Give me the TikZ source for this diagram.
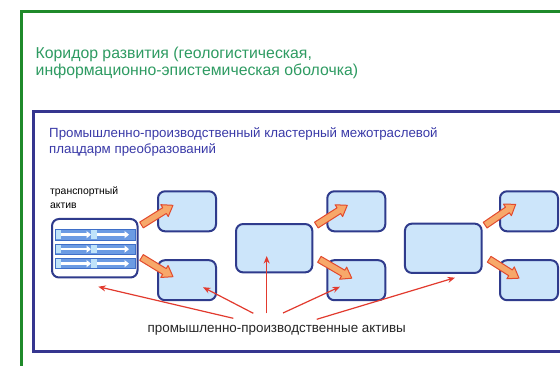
\documentclass[tikz,border=0pt]{standalone}
\usepackage{fontspec}
\setmainfont{Liberation Sans}
\usetikzlibrary{calc,arrows.meta}

\definecolor{frameGreen}{HTML}{1F8A2A}
\definecolor{textGreen}{HTML}{2E9B62}
\definecolor{frameBlue}{HTML}{35358F}
\definecolor{textBlue}{HTML}{3A3AA8}
\definecolor{boxFill}{HTML}{CCE5FA}
\definecolor{boxLine}{HTML}{2F3B8C}
\definecolor{linkRed}{HTML}{E23A2E}
\definecolor{fatFill}{HTML}{F7A86A}
\definecolor{fatLine}{HTML}{E24A2E}
\definecolor{laneFill}{HTML}{6B9BE3}
\definecolor{laneLine}{HTML}{3F6FC8}
\definecolor{laneLight}{HTML}{BFE3FA}

\tikzset{
  assetbox/.style={draw=boxLine, fill=boxFill, line width=2pt, rounded corners=7pt,
    inner sep=0pt, minimum width=58pt, minimum height=40pt},
  fatstyle/.style={fill=fatFill, draw=fatLine, line width=1pt, line join=round},
  redlink/.style={draw=linkRed, line width=1.2pt, -{Stealth[length=7.5pt,width=6pt]}},
  lane/.style={fill=laneFill, draw=laneLine, line width=0.8pt},
  lanearrow/.style={draw=white, line width=2.6pt, -{Triangle[length=4.5pt,width=7pt]}},
}

% thick outlined arrow from #1 to #2
\newcommand\fatarrow[2]{%
  \filldraw[fatstyle] let \p1=($(#2)-(#1)$), \n1={atan2(\y1,\x1)}, \n2={veclen(\x1,\y1)} in
    [shift={(#1)}, rotate=\n1]
    (0pt,-3.4pt) -- (\n2-10pt,-3.4pt) -- (\n2-10pt,-7pt) -- (\n2,0pt)
    -- (\n2-10pt,7pt) -- (\n2-10pt,3.4pt) -- (0pt,3.4pt) -- cycle;}

\begin{document}
\begin{tikzpicture}[x=1pt,y=-1pt]
\useasboundingbox (0,0) rectangle (560,366);
\clip (0,0) rectangle (560,366);
\fill[white] (0,0) rectangle (560,366);

% outer corridor frame
\draw[frameGreen, line width=2.3pt] (21.5,400) -- (21.5,11.5) -- (600,11.5);
\node[anchor=base west, inner sep=0pt, text=textGreen, font=\fontsize{15.8}{18}\selectfont]
  (corr1) at (35.5,58.3) {Коридор развития (геологистическая,};
\node[anchor=base west, inner sep=0pt, text=textGreen, font=\fontsize{15.8}{18}\selectfont]
  (corr2) at (35.5,75.5) {информационно-эпистемическая оболочка)};

% cluster frame
\draw[frameBlue, line width=2.5pt] (600,111.5) -- (33.3,111.5) -- (33.3,351.5) -- (600,351.5);
\node[anchor=base west, inner sep=0pt, text=textBlue, font=\fontsize{13.3}{15}\selectfont]
  (clu1) at (49,137.5) {Промышленно-производственный кластерный межотраслевой};
\node[anchor=base west, inner sep=0pt, text=textBlue, font=\fontsize{13.3}{15}\selectfont]
  (clu2) at (49,154) {плацдарм преобразований};

% transport asset
\node[anchor=base west, inner sep=0pt, font=\fontsize{10.4}{12}\selectfont]
  (tr1) at (50,194.3) {транспортный};
\node[anchor=base west, inner sep=0pt, font=\fontsize{10.4}{12}\selectfont]
  (tr2) at (50,208.3) {актив};
\node[assetbox, fill=white, minimum width=85.5pt, minimum height=58.5pt] (T) at (94.75,248.25) {};
\foreach \ya/\yb in {229.3/240, 244/254.3, 258.5/268.8}{
  \draw[lane] (55,\ya) rectangle (135,\yb);
  \fill[laneLight] (55.8,\ya+0.8) rectangle (61,\yb-0.8);
  \fill[laneLight] (91,\ya+0.8) rectangle (97,\yb-0.8);
  \draw[lanearrow] (61,{(\ya+\yb)/2}) -- (91,{(\ya+\yb)/2});
  \draw[lanearrow] (97,{(\ya+\yb)/2}) -- (129,{(\ya+\yb)/2});
}

% production assets
\node[assetbox] (A) at (187,211.3) {};
\node[assetbox] (B) at (187,280.2) {};
\node[assetbox, minimum width=76.3pt, minimum height=48.3pt] (C) at (274.2,248.2) {};
\node[assetbox] (D) at (356.3,211.3) {};
\node[assetbox] (E) at (356.3,280.2) {};
\node[assetbox, minimum width=76.7pt, minimum height=49.3pt] (F) at (443.3,248.3) {};
\node[assetbox] (G) at (529,211.3) {};
\node[assetbox] (H) at (529,280.2) {};

% flows between assets
\coordinate (t1) at ($(T.north east)+(3,7)$);
\coordinate (h1) at ($(A.west)+(16,-6)$);
\coordinate (t2) at ($(T.south east)+(3,-21)$);
\coordinate (h2) at ($(B.west)+(16,-3.5)$);
\coordinate (t3) at ($(C.north east)+(3,2)$);
\coordinate (h3) at ($(D.west)+(21,-6)$);
\coordinate (t4) at ($(C.south east)+(6,-14)$);
\coordinate (h4) at ($(E.west)+(25.5,-2)$);
\coordinate (t5) at ($(F.north east)+(2.5,2.5)$);
\coordinate (h5) at ($(G.west)+(16.7,-7)$);
\coordinate (t6) at ($(F.south east)+(6.5,-14.7)$);
\coordinate (h6) at ($(H.west)+(20,-2)$);
\fatarrow{t1}{h1}
\fatarrow{t2}{h2}
\fatarrow{t3}{h3}
\fatarrow{t4}{h4}
\fatarrow{t5}{h5}
\fatarrow{t6}{h6}

% label of production assets and its pointers
\node[anchor=base, inner sep=0pt, text=black!85, font=\fontsize{13.4}{15}\selectfont]
  (L) at (276.7,333) {промышленно-производственные активы};
\coordinate (p1) at (233.3,318.3);
\coordinate (p2) at (253.3,313.3);
\coordinate (p3) at (266.7,313.3);
\coordinate (p4) at (283,313);
\coordinate (p5) at (316.7,319.3);
\draw[redlink] (p1) -- ($(T.south)+(3.5,8.2)$);
\draw[redlink] (p2) -- ($(B.center)+(16,7)$);
\draw[redlink] (p3) -- ($(C.center)+(-7.5,7.8)$);
\draw[redlink] (p4) -- ($(E.center)+(-16.3,6.5)$);
\draw[redlink] (p5) -- ($(F.center)+(11.7,29.4)$);
\end{tikzpicture}
\end{document}
